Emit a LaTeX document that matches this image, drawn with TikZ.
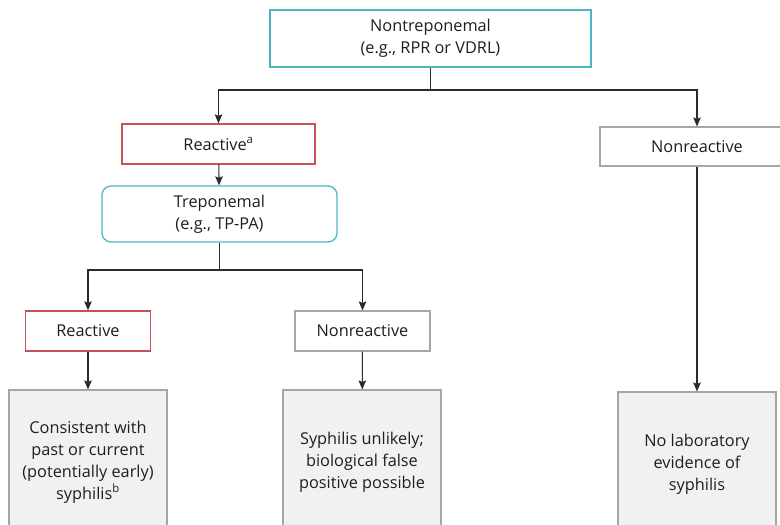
\documentclass[tikz,border=0pt]{standalone}
\usepackage{fontspec}
\setmainfont{Open Sans}
\usepackage{tikz}
\usetikzlibrary{arrows,arrows.meta,positioning}

\definecolor{testteal}{HTML}{4DB6C2}
\definecolor{testred}{HTML}{C6525A}
\definecolor{boxgray}{HTML}{A6A6A6}
\definecolor{outfill}{HTML}{F1F1F1}
\definecolor{linegray}{HTML}{2B2B2B}
\definecolor{inkgray}{HTML}{1E1E1E}

\begin{document}
\begin{tikzpicture}[x=1pt,y=-1pt,->,>={Stealth[length=9pt,width=7.5pt,inset=1.5pt]},semithick,
                    font=\fontsize{16.3}{22}\selectfont,text=inkgray]
  \tikzstyle{test}=[rectangle,draw=testteal,line width=1.3pt,fill=white,align=center,inner sep=0pt]
  \tikzstyle{posbox}=[rectangle,draw=testred,line width=1.3pt,fill=white,align=center,inner sep=0pt]
  \tikzstyle{negbox}=[rectangle,draw=boxgray,line width=1.1pt,fill=white,align=center,inner sep=0pt]
  \tikzstyle{result}=[rectangle,draw=boxgray,line width=1.1pt,fill=outfill,align=center,
                      inner sep=0pt,minimum width=158pt,minimum height=144pt]
  \tikzstyle{wire}=[draw=linegray,line width=1.1pt]

  \fill[white] (0,0) rectangle (780,525);
  \clip (0,0) rectangle (780,525);

  \node[test,minimum width=321pt,minimum height=57pt] (nontrep) at (430.5,38.5)
        {Nontreponemal\\(e.g., RPR or VDRL)};
  \node[posbox,minimum width=193pt,minimum height=40pt] (reactA) at (218.5,144)
        {Reactive\textsuperscript{a}};
  \node[negbox,minimum width=194pt,minimum height=39pt] (nonreactA) at (697,146.5)
        {Nonreactive};
  \node[test,rounded corners=9pt,minimum width=235pt,minimum height=56pt] (trep) at (219.5,214)
        {Treponemal\\(e.g., TP-PA)};
  \node[posbox,minimum width=125pt,minimum height=40pt] (reactB) at (88,331)
        {Reactive};
  \node[negbox,minimum width=135pt,minimum height=40pt] (nonreactB) at (362.5,331)
        {Nonreactive};
  \node[result] (past)  at (88,462)
        {Consistent with\\past or current\\(potentially early)\\syphilis\textsuperscript{b}};
  \node[result] (false) at (362,462)
        {Syphilis unlikely;\\biological false\\positive possible};
  \node[result] (none)  at (697,464)
        {No laboratory\\evidence of\\syphilis};

  \coordinate (split1) at (430.5,90);
  \coordinate (split2) at (219.5,270);

  \draw[wire,-] (nontrep.south) -- (split1);
  \draw[wire] (split1) -| (reactA.north);
  \draw[wire] (split1) -| (nonreactA.north);
  \draw[wire] (reactA) -- (trep);
  \draw[wire,-] (trep.south) -- (split2);
  \draw[wire] (split2) -| (reactB.north);
  \draw[wire] (split2) -| (nonreactB.north);
  \draw[wire] (reactB) -- (past);
  \draw[wire] (nonreactB) -- (false);
  \draw[wire] (nonreactA) -- (none);
\end{tikzpicture}
\end{document}
